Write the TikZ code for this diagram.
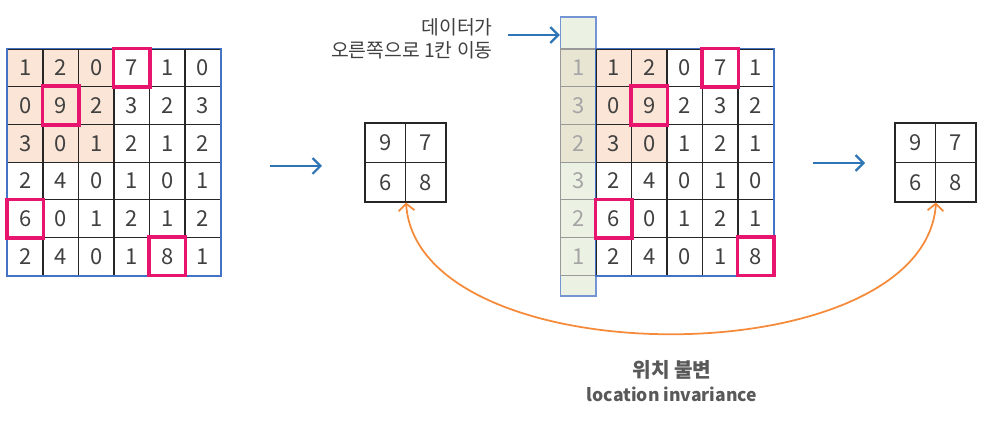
\documentclass[tikz,border=0pt]{standalone}
\usepackage{fontspec}
\newfontfamily\krfont{Noto Sans CJK KR}
\usetikzlibrary{arrows.meta}
\definecolor{gridblue}{HTML}{4472C4}
\definecolor{arrowblue}{HTML}{2E75B6}
\definecolor{hlpink}{HTML}{E8156F}
\definecolor{peach}{HTML}{FBE5D6}
\definecolor{palegreen}{HTML}{EBF1E3}
\definecolor{mixtan}{HTML}{E9E5D3}
\definecolor{curveorange}{HTML}{F58B3A}
\definecolor{txtgray}{HTML}{404040}
\definecolor{shiftgray}{HTML}{A5A5A5}
\tikzset{cell/.style={draw=black!85, line width=0.6pt, minimum width=0.71cm, minimum height=0.754cm,
      inner sep=0pt, text=txtgray, font=\krfont\fontsize{12.5}{14}\selectfont}}
\tikzset{smallcell/.style={cell, minimum width=0.81cm, minimum height=0.79cm}}
\tikzset{shiftcell/.style={cell, draw=black!40, text=shiftgray}}
\tikzset{shiftcol/.style={draw=gridblue!75, line width=0.8pt, fill=palegreen, minimum width=0.71cm,
      minimum height=5.58cm, inner sep=0pt}}
\tikzset{hl/.style={draw=hlpink, line width=2pt}}
\tikzset{gridframe/.style={draw=gridblue, line width=1.1pt}}
\tikzset{flow/.style={draw=arrowblue, line width=1.3pt, -{Straight Barb[length=4.5pt,width=9pt]}}}
\tikzset{note/.style={text=txtgray, align=right, inner sep=0pt, font=\krfont\fontsize{11}{13}\selectfont}}
\tikzset{caption/.style={text=black!65, align=center, font=\krfont\bfseries\fontsize{10}{14}\selectfont}}

\begin{document}
\begin{tikzpicture}[x=0.02cm, y=-0.02cm]
    \useasboundingbox (0,0) rectangle (995,425);
    % original input
    \fill[peach] (7.5,49) rectangle (114,162.1);
    \foreach \row [count=\r from 0] in {{1,2,0,7,1,0},{0,9,2,3,2,3},{3,0,1,2,1,2},{2,4,0,1,0,1},{6,0,1,2,1,2},{2,4,0,1,8,1}}
      \foreach \v [count=\c from 0] in \row
        \node[cell] (L-\r-\c) at ({25.25+35.5*\c},{67.85+37.7*\r}) {\v};
    \draw[gridframe] (L-0-0.north west) rectangle (L-5-5.south east);
    \foreach \n in {L-0-3,L-1-1,L-4-0,L-5-4}
      \draw[hl] (\n.north west) rectangle (\n.south east);
    % pooled result
    \foreach \row [count=\r from 0] in {{9,7},{6,8}}
      \foreach \v [count=\c from 0] in \row
        \node[smallcell] (S1-\r-\c) at ({385.25+40.5*\c},{142.75+39.5*\r}) {\v};
    \coordinate (a1from) at (270,166);
    \coordinate (a1to) at (322,166);
    \draw[flow] (a1from) -- (a1to);
    % shifted input
    \node[shiftcol] (gcol) at (578.25,156.5) {};
    \fill[mixtan] (560.9,49) rectangle (595.6,162.1);
    \fill[peach] (596,49) rectangle (667,162.1);
    \foreach \v [count=\r from 0] in {1,3,2,3,2,1}
      \node[shiftcell] (G-\r) at (578.25,{67.85+37.7*\r}) {\v};
    \foreach \row [count=\r from 0] in {{1,2,0,7,1},{0,9,2,3,2},{3,0,1,2,1},{2,4,0,1,0},{6,0,1,2,1},{2,4,0,1,8}}
      \foreach \v [count=\c from 0] in \row
        \node[cell] (R-\r-\c) at ({613.75+35.5*\c},{67.85+37.7*\r}) {\v};
    \draw[gridframe] (R-0-0.north west) rectangle (R-5-4.south east);
    \foreach \n in {R-0-3,R-1-1,R-4-0,R-5-4}
      \draw[hl] (\n.north west) rectangle (\n.south east);
    \node[note, anchor=east] (shiftnote) at (493,39) {데이터가\\오른쪽으로 1칸 이동};
    \coordinate (shiftfrom) at (508,35);
    \draw[flow] (shiftfrom) -- (shiftfrom -| gcol.west);
    \foreach \row [count=\r from 0] in {{9,7},{6,8}}
      \foreach \v [count=\c from 0] in \row
        \node[smallcell] (S2-\r-\c) at ({915.25+40.5*\c},{142.75+39.5*\r}) {\v};
    \coordinate (a2from) at (813,163);
    \coordinate (a2to) at (865,163);
    \draw[flow] (a2from) -- (a2to);
    % same output
    \draw[curveorange, line width=1pt, {Straight Barb[length=4pt,width=9pt]}-{Straight Barb[length=4pt,width=9pt]}]
      (S1-1-0.south east) .. controls +(12,175) and +(-12,175) .. (S2-1-0.south east);
    \node[caption] (invlabel) at (672,381) {{\fontsize{11.5}{14}\selectfont 위치 불변}\\location invariance};
\end{tikzpicture}
\end{document}
